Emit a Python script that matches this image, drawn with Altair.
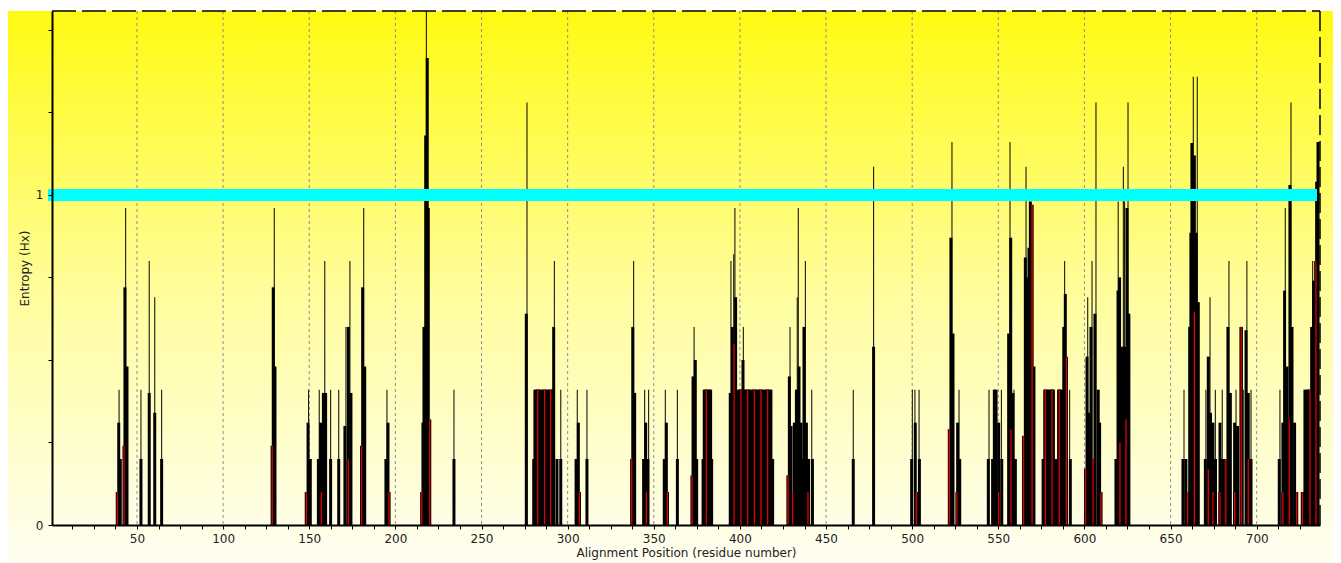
import altair as alt
import pandas as pd

# ---------------- data ----------------
thin_pos = [39.6, 43.4, 52.3, 57.1, 60.3, 64.3, 129.7, 149.6, 155.8, 159.0, 162.4, 167.1,
            171.3, 173.6, 181.6, 195.1, 218.0, 234.0, 276.4, 292.3, 296.0, 305.6, 311.2,
            338.3, 344.7, 347.0, 356.7, 363.7, 373.4, 394.8, 396.4, 397.1, 402.0, 429.1,
            433.3, 433.9, 438.0, 441.7, 465.8, 477.6, 500.1, 501.6, 504.0, 523.1, 527.2,
            544.6, 547.7, 551.8, 556.8, 559.1, 566.1, 588.5, 591.4, 601.9, 604.4, 606.7,
            619.6, 622.6, 623.3, 625.3, 657.8, 663.2, 665.5, 670.5, 672.9, 676.0, 680.0,
            683.9, 688.0, 692.2, 694.3, 696.7, 713.5, 716.6, 719.9, 732.5]
thin_h = [0.41, 0.96, 0.41, 0.80, 0.69, 0.41, 0.96, 0.41, 0.41, 0.80, 0.41, 0.41,
          0.60, 0.80, 0.96, 0.41, 1.557, 0.41, 1.28, 0.80, 0.41, 0.41, 0.41,
          0.80, 0.41, 0.41, 0.41, 0.41, 0.60, 0.80, 0.82, 0.96, 0.60, 0.60,
          0.69, 0.96, 0.80, 0.41, 0.41, 1.085, 0.41, 0.41, 0.41, 1.16, 0.41,
          0.41, 0.41, 0.41, 1.16, 0.41, 1.085, 0.80, 0.41, 0.69, 0.80, 1.28,
          0.98, 1.085, 0.98, 1.28, 0.41, 1.358, 1.358, 0.41, 0.69, 0.41, 0.41,
          0.80, 0.41, 0.41, 0.80, 0.41, 0.41, 0.96, 1.28, 0.80]

thick_pos = [39.4, 40.3, 43.0, 44.2, 52.3, 57.1, 60.3, 64.3, 129.1, 130.1, 149.3, 150.6,
             155.3, 156.6, 158.2, 159.5, 162.4, 167.1, 170.7, 172.7, 174.2, 181.0, 182.2,
             194.5, 195.7, 216.0, 216.6, 217.6, 218.5, 219.1, 234.0, 276.0, 280.3,
             281, 282, 283, 284, 285, 286, 287, 288, 289, 290, 291,
             291.9, 293.8, 296.0, 304.9, 306.2, 311.2, 337.8, 338.9, 344.1, 345.3, 346.6,
             356.1, 357.3, 363.7, 372.8, 374.1, 374.9, 378.6, 379.3, 380.3, 381.3, 382.3,
             383.0, 383.6, 394.4, 395.6, 397.5,
             399, 400, 401, 402, 403, 404, 405, 406, 407, 408, 409, 410, 411, 412, 413,
             414, 415, 416, 417, 418,
             401.8, 419.0, 428.7, 429.7, 431.6, 432.8, 434.3, 435.5, 436.6, 437.2, 438.6,
             439.9, 442.1, 465.8, 477.6, 499.7, 501.8, 504.2, 522.5, 523.7, 526.4, 527.6,
             544.2, 546.7, 547.7, 548.7, 550.2, 552.0, 556.0, 557.2, 558.5, 559.9, 565.7,
             567.0, 567.8, 568.6, 570.7, 576.0, 577, 578, 579, 580, 581, 582, 583.5,
             585, 586, 587, 588.0, 588.9, 591.8, 601.5, 602.8, 603.8, 606.1, 608.0, 608.8,
             618.3, 619.5, 620.4, 621.8, 623.3, 624.7, 625.8, 657.2, 658.9, 661.1, 661.8,
             662.4, 663.8, 664.9, 666.1, 670.2, 671.9, 673.2, 674.6, 676.1, 678.7, 680.2,
             682.1, 683.3, 684.7, 687.2, 688.9, 691.0, 693.8, 695.1, 696.7, 713.1, 715.2,
             716.2, 717.6, 719.3, 720.5, 722.0, 728.0, 729.4, 730.0, 731.9, 733.0, 734.4,
             734.8, 735.6]
thick_h = [0.31, 0.20, 0.72, 0.48, 0.20, 0.40, 0.34, 0.20, 0.72, 0.48, 0.31, 0.20,
           0.20, 0.31, 0.40, 0.40, 0.20, 0.20, 0.30, 0.60, 0.40, 0.72, 0.48,
           0.20, 0.31, 0.31, 0.60, 1.18, 1.415, 0.96, 0.20, 0.64, 0.20,
           0.41, 0.41, 0.41, 0.41, 0.41, 0.41, 0.41, 0.41, 0.41, 0.41, 0.41,
           0.60, 0.20, 0.20, 0.20, 0.31, 0.20, 0.60, 0.40, 0.20, 0.31, 0.20,
           0.20, 0.31, 0.20, 0.45, 0.50, 0.20, 0.20, 0.41, 0.41, 0.41, 0.41,
           0.41, 0.20, 0.40, 0.60, 0.69,
           0.41, 0.41, 0.41, 0.41, 0.41, 0.41, 0.41, 0.41, 0.41, 0.41, 0.41, 0.41, 0.41,
           0.41, 0.41, 0.41, 0.41, 0.41, 0.41, 0.41,
           0.50, 0.20, 0.45, 0.30, 0.31, 0.41, 0.48, 0.31, 0.20, 0.60, 0.31,
           0.20, 0.20, 0.20, 0.54, 0.20, 0.31, 0.20, 0.87, 0.58, 0.31, 0.20,
           0.20, 0.20, 0.41, 0.41, 0.31, 0.20, 0.58, 0.87, 0.40, 0.20, 0.81,
           0.75, 0.84, 0.98, 0.48, 0.20, 0.41, 0.41, 0.41, 0.41, 0.41, 0.41, 0.20,
           0.41, 0.41, 0.41, 0.60, 0.70, 0.20, 0.51, 0.34, 0.60, 0.64, 0.41, 0.31,
           0.20, 0.71, 0.75, 0.54, 0.54, 0.96, 0.64, 0.20, 0.20, 0.60, 0.885,
           1.157, 1.119, 0.885, 0.675, 0.20, 0.51, 0.34, 0.31, 0.20, 0.31, 0.20,
           0.20, 0.60, 0.40, 0.31, 0.30, 0.60, 0.59, 0.40, 0.20, 0.20, 0.31,
           0.71, 0.48, 1.03, 0.60, 0.31, 0.41, 0.41, 0.41, 0.60, 0.74, 0.80,
           1.04, 1.16]

red_pos = [38.6, 42.5, 128.5, 148.3, 157.0, 172.7, 180.4, 196.3, 215.3, 219.9, 282.6,
           286.6, 290.1, 306.8, 337.2, 345.7, 357.9, 372.2, 380.5, 396.6, 400.6, 404.5,
           408.4, 412.2, 416.1, 427.9, 430.6, 439.5, 502.4, 521.6, 526.0, 550.2, 557.4,
           564.7, 569.6, 577.3, 581.2, 585.4, 589.5, 600.7, 605.0, 609.6, 620.6, 624.1,
           659.9, 663.8, 671.9, 674.6, 678.7, 682.1, 687.2, 691.0, 695.1, 715.2, 718.9,
           723.2, 726.5, 730.9, 734.4]
red_h = [0.10, 0.24, 0.24, 0.10, 0.10, 0.20, 0.24, 0.10, 0.10, 0.32, 0.41,
         0.41, 0.41, 0.10, 0.20, 0.10, 0.10, 0.15, 0.41, 0.55, 0.41, 0.41,
         0.41, 0.41, 0.41, 0.15, 0.10, 0.10, 0.10, 0.29, 0.10, 0.10, 0.29,
         0.27, 0.97, 0.41, 0.41, 0.41, 0.51, 0.17, 0.20, 0.10, 0.25, 0.32,
         0.10, 0.647, 0.17, 0.10, 0.10, 0.20, 0.10, 0.60, 0.20, 0.10, 0.32,
         0.10, 0.10, 0.41, 0.80]

grid_pos = [50, 100, 150, 200, 250, 300, 350, 400, 450, 500, 550, 600, 650, 700]
threshold = [1.0]
x_ticks = [12.5 * k for k in range(1, 59)]
y_ticks = [0, 0.25, 0.5, 0.75, 1.0, 1.25, 1.5]

# ---------------- layout ----------------
W, H = 1268, 514
PAD = {"left": 44, "top": 3, "right": 13, "bottom": 38}
FONT = "DejaVu Sans"

xs = alt.Scale(domain=[0.66, 736.75], nice=False, zero=False)
ys = alt.Scale(domain=[0, 1.557], nice=False, zero=True)

xaxis = alt.Axis(values=x_ticks, labelExpr="datum.value % 50 == 0 ? datum.label : ''",
                 format="d", tickSize=4, tickColor="black", tickWidth=1,
                 domainColor="black", domainWidth=2, grid=False, zindex=1,
                 labelFont=FONT, labelFontSize=12, labelColor="#222", labelPadding=4,
                 labelOverlap=False, labelFlush=False,
                 title="Alignment Position (residue number)", titleFont=FONT,
                 titleFontSize=12, titleFontWeight="normal", titleColor="#222",
                 titlePadding=3)
yaxis = alt.Axis(values=y_ticks, format="~g",
                 labelExpr="datum.value == 0 || datum.value == 1 ? datum.label : ''",
                 tickSize=4, tickColor="black", tickWidth=1, domainColor="black",
                 domainWidth=2, grid=False, zindex=1, labelFont=FONT, labelFontSize=12,
                 labelColor="#222", labelPadding=5, labelOverlap=False,
                 title="Entropy (Hx)", titleFont=FONT, titleFontSize=12,
                 titleFontWeight="normal", titleColor="#222", titlePadding=4)

X = alt.X("pos:Q", scale=xs, axis=xaxis)
Y = alt.Y("h:Q", scale=ys, axis=yaxis)

one = pd.DataFrame({"a": [0]})
gradient = alt.LinearGradient(gradient="linear",
                              stops=[alt.GradientStop(color="#FFFA12", offset=0),
                                     alt.GradientStop(color="#FFFD9A", offset=0.5),
                                     alt.GradientStop(color="#FFFEF2", offset=1)],
                              x1=0, x2=0, y1=0, y2=1)

bg = alt.Chart(one).mark_rect(fill=gradient, strokeWidth=0).encode(
    x=alt.value(-44), x2=alt.value(W + PAD["right"]),
    y=alt.value(0), y2=alt.value(H + PAD["bottom"]))

grid = alt.Chart(pd.DataFrame({"pos": grid_pos})).mark_rule(
    color="#8f8f8f", strokeWidth=1, strokeDash=[3, 3]).encode(
    x=X, y=alt.value(0), y2=alt.value(H))

thin = alt.Chart(pd.DataFrame({"pos": thin_pos, "h": thin_h})).mark_rule(
    color="#1a1a10", strokeWidth=1.1).encode(x=X, y=Y, y2=alt.datum(0))

thick = alt.Chart(pd.DataFrame({"pos": thick_pos, "h": thick_h})).mark_rule(
    color="black", strokeWidth=3).encode(x=X, y=Y, y2=alt.datum(0))

red_df = pd.DataFrame({"pos": red_pos, "h": red_h})
red_out = alt.Chart(red_df).mark_rule(color="black", strokeWidth=3.2).encode(
    x=X, y=Y, y2=alt.datum(0))
red_core = alt.Chart(red_df).mark_rule(color="#E00000", strokeWidth=1.3).encode(
    x=X, y=Y, y2=alt.datum(0))

cyan = alt.Chart(pd.DataFrame({"pos": [1.0], "h": threshold})).mark_rule(
    color="#00FFFF", strokeWidth=12, strokeCap="butt").encode(
    y=Y, x=alt.value(-4), x2=alt.value(W - 3))

top_border = alt.Chart(one).mark_rule(color="black", strokeWidth=1.5,
                                      strokeDash=[24, 6]).encode(
    x=alt.value(0), x2=alt.value(W), y=alt.value(0))
right_border = alt.Chart(one).mark_rule(color="black", strokeWidth=1.5,
                                        strokeDash=[20, 6]).encode(
    x=alt.value(W), y=alt.value(0), y2=alt.value(H))

chart = alt.layer(bg, grid, thin, thick, red_out, red_core, cyan, top_border,
                  right_border).properties(
    width=W, height=H, padding=PAD,
    autosize=alt.AutoSizeParams(type="none"),
    background="white"
).configure_view(strokeWidth=0)

chart.save("out.html", embed_options={"renderer": "svg", "actions": False})
